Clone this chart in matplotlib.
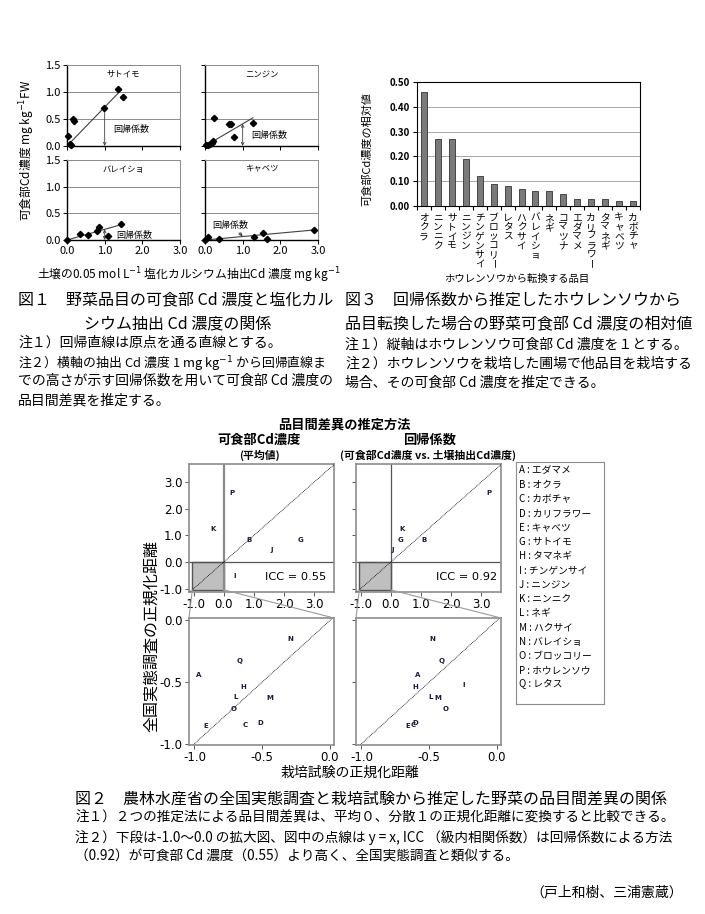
import matplotlib
matplotlib.use("Agg")
import matplotlib.pyplot as plt
from matplotlib.patches import Rectangle, ConnectionPatch
import numpy as np

plt.rcParams['font.family'] = ['Noto Sans CJK JP', 'DejaVu Sans']
plt.rcParams['axes.unicode_minus'] = False
plt.rcParams['mathtext.fontset'] = 'dejavusans'

W, H = 705, 914
NARROW = ['Liberation Sans Narrow', 'DejaVu Sans']

# ---- fig 1: soil CaCl2-extractable Cd vs edible-part Cd ----
crop_names = ['サトイモ', 'ニンジン', 'バレイショ', 'キャベツ']
satoimo_x = [0.03, 0.07, 0.10, 0.15, 0.18, 0.97, 1.35, 1.49]
satoimo_y = [0.18, 0.04, 0.02, 0.50, 0.46, 0.70, 1.05, 0.90]
ninjin_x = [0.03, 0.08, 0.13, 0.19, 0.22, 0.24, 0.65, 0.70, 0.77, 1.27]
ninjin_y = [0.02, 0.01, 0.04, 0.06, 0.09, 0.51, 0.40, 0.40, 0.17, 0.43]
bareisho_x = [0.00, 0.35, 0.55, 0.80, 0.84, 1.10, 1.43]
bareisho_y = [0.00, 0.11, 0.09, 0.16, 0.25, 0.07, 0.30]
kyabetsu_x = [0.00, 0.09, 0.37, 1.31, 1.54, 1.64, 2.90]
kyabetsu_y = [0.00, 0.06, 0.01, 0.06, 0.14, 0.02, 0.19]
crop_slopes = [0.72, 0.41, 0.20, 0.065]
crop_line_end = [1.45, 1.27, 1.45, 2.90]

# ---- fig 3: relative edible Cd when switching from spinach ----
bar_names = ['オクラ', 'ニンニク', 'サトイモ', 'ニンジン', 'チンゲンサイ', 'ブロッコリー',
             'レタス', 'ハクサイ', 'バレイショ', 'ネギ', 'コマツナ', 'エダマメ',
             'カリフラワー', 'タマネギ', 'キャベツ', 'カボチャ']
bar_values = [0.46, 0.27, 0.27, 0.19, 0.12, 0.09, 0.08, 0.07, 0.06, 0.06,
              0.05, 0.03, 0.03, 0.03, 0.02, 0.02]

# ---- fig 2: normalized distances ----
item_letters = ['A', 'B', 'C', 'D', 'E', 'G', 'H', 'I', 'J', 'K', 'L', 'M', 'N', 'O', 'P', 'Q']
item_names = ['エダマメ', 'オクラ', 'カボチャ', 'カリフラワー', 'キャベツ', 'サトイモ', 'タマネギ',
              'チンゲンサイ', 'ニンジン', 'ニンニク', 'ネギ', 'ハクサイ', 'バレイショ',
              'ブロッコリー', 'ホウレンソウ', 'レタス']
survey_dist = [-0.44, 0.82, -0.85, -0.83, -0.855, 0.82, -0.54, -0.52, 0.47, 1.23,
               -0.62, -0.63, -0.15, -0.72, 2.58, -0.33]
cd_dist = [-0.97, 0.83, -0.624, -0.511, -0.92, 2.55, -0.642, 0.37, 1.58, -0.34,
           -0.696, -0.444, -0.296, -0.711, 0.28, -0.667]
reg_dist = [-0.587, 1.09, -0.62, -0.605, -0.655, 0.33, -0.605, -0.245, 0.05, 0.37,
            -0.49, -0.437, -0.475, -0.375, 3.25, -0.407]
icc_values = [0.55, 0.92]

fig = plt.figure(figsize=(W / 100, H / 100), dpi=100)


def rect(l, t, r, b):
    return [l / W, 1 - b / H, (r - l) / W, (b - t) / H]


def ftext(x, y, s, **kw):
    kw.setdefault('va', 'center')
    fig.text(x / W, 1 - y / H, s, **kw)


# ===== fig 1 panels =====
crop_boxes = [(67, 65, 180, 146), (205, 65, 318, 146), (67, 160, 180, 240), (205, 160, 318, 240)]
crop_x = [satoimo_x, ninjin_x, bareisho_x, kyabetsu_x]
crop_y = [satoimo_y, ninjin_y, bareisho_y, kyabetsu_y]
reg_label_pos = [(1.22, 0.31), (1.22, 0.20), (1.30, 0.09)]

for k in range(4):
    ax = fig.add_axes(rect(*crop_boxes[k]))
    ax.set_xlim(0, 3)
    ax.set_ylim(0, 1.5)
    ax.set_xticks([0, 1, 2, 3])
    ax.set_xticklabels(['0.0', '1.0', '2.0', '3.0'])
    ax.set_yticks([0, 0.5, 1.0, 1.5])
    ax.set_yticklabels(['0.0', '0.5', '1.0', '1.5'])
    ax.tick_params(labelsize=8, length=3, width=0.7, pad=1.5,
                   labelleft=(k % 2 == 0), labelbottom=(k >= 2))
    ax.grid(axis='y', color='#8c8c8c', lw=0.7)
    ax.set_axisbelow(True)
    for s in ['top', 'right']:
        ax.spines[s].set_color('#8c8c8c')
        ax.spines[s].set_linewidth(0.7)
    for s in ['left', 'bottom']:
        ax.spines[s].set_linewidth(1.0)
    xe = crop_line_end[k]
    ax.plot([0, xe], [0, crop_slopes[k] * xe], color='#404040', lw=0.8)
    ax.plot(crop_x[k], crop_y[k], 'D', color='black', ms=3.2, clip_on=False, zorder=5)
    ax.text(1.5, 1.33, crop_names[k], ha='center', va='center', fontsize=6)
    if k < 3:
        ax.annotate('', xy=(1, 0), xytext=(1, crop_slopes[k]),
                    arrowprops=dict(arrowstyle='<->', lw=0.6, color='#404040',
                                    shrinkA=0, shrinkB=0, mutation_scale=5))
        ax.text(*reg_label_pos[k], '回帰係数', fontsize=6.5, va='center', ha='left')
    else:
        ax.annotate('回帰係数', xy=(1.0, 0.075), xytext=(0.2, 0.27), fontsize=6.5,
                    va='center', ha='left',
                    arrowprops=dict(arrowstyle='->', lw=0.6, color='#202020',
                                    shrinkA=0, shrinkB=0, mutation_scale=5))

ftext(27, 150, '可食部Cd濃度 mg kg$^{-1}$FW', rotation=90, ha='center', fontsize=8.5)
ftext(189, 275, '土壌の0.05 mol L$^{-1}$ 塩化カルシウム抽出Cd 濃度 mg kg$^{-1}$',
      ha='center', fontsize=8.5)

# ===== fig 3 bar chart =====
axb = fig.add_axes(rect(417, 82, 640, 206))
pos = np.arange(len(bar_names))
axb.bar(pos, bar_values, width=0.43, color='#7a7a7a', edgecolor='#333333', lw=0.6, zorder=3)
axb.set_xlim(-0.5, len(bar_names) - 0.5)
axb.set_ylim(0, 0.5)
axb.set_yticks(np.arange(0, 0.51, 0.1))
axb.set_yticklabels(['%.2f' % v for v in np.arange(0, 0.51, 0.1)], fontsize=7, fontweight='bold')
axb.set_xticks(np.arange(-0.5, len(bar_names), 1.0))
axb.tick_params(axis='x', length=3, labelbottom=False)
axb.tick_params(axis='y', length=3, pad=2)
axb.grid(axis='y', color='#999999', lw=0.6, zorder=0)
for i, name in enumerate(bar_names):
    for j, ch in enumerate(name):
        axb.annotate(ch, xy=(i, 0), xycoords=axb.get_xaxis_transform(),
                     xytext=(0, -5 - j * 6.6), textcoords='offset points',
                     ha='center', va='top', fontsize=7,
                     rotation=-90 if ch == 'ー' else 0)
ftext(367, 149, '可食部Cd濃度の相対値', rotation=90, ha='center', fontsize=8)
ftext(517, 279, 'ホウレンソウから転換する品目', ha='center', fontsize=7.5)

# ===== captions, fig 1 and 3 =====
cap_big = 11.5
cap_small = 10
ftext(18, 300, '図１　野菜品目の可食部 Cd 濃度と塩化カル', fontsize=cap_big)
ftext(84, 324, 'シウム抽出 Cd 濃度の関係', fontsize=cap_big)
ftext(18, 343, '注１）回帰直線は原点を通る直線とする。', fontsize=cap_small)
ftext(18, 362, '注２）横軸の抽出 Cd 濃度 1 mg kg$^{-1}$ から回帰直線ま', fontsize=9.3)
ftext(18, 381, 'での高さが示す回帰係数を用いて可食部 Cd 濃度の', fontsize=cap_small)
ftext(18, 400, '品目間差異を推定する。', fontsize=cap_small)
ftext(345, 300, '図３　回帰係数から推定したホウレンソウから', fontsize=cap_big)
ftext(345, 324, '品目転換した場合の野菜可食部 Cd 濃度の相対値', fontsize=cap_big)
ftext(345, 345, '注１）縦軸はホウレンソウ可食部 Cd 濃度を１とする。', fontsize=cap_small)
ftext(345, 364, '注２）ホウレンソウを栽培した圃場で他品目を栽培する', fontsize=cap_small)
ftext(345, 383, '場合、その可食部 Cd 濃度を推定できる。', fontsize=cap_small)

# ===== fig 2 =====
ftext(344, 425, '品目間差異の推定方法', ha='center', fontsize=9.5, fontweight='bold')
ftext(259, 440, '可食部Cd濃度', ha='center', fontsize=9.5, fontweight='bold')
ftext(259, 455, '(平均値)', ha='center', fontsize=7.8, fontweight='bold')
ftext(430, 440, '回帰係数', ha='center', fontsize=9.5, fontweight='bold')
ftext(428, 455, '(可食部Cd濃度 vs. 土壌抽出Cd濃度)', ha='center', fontsize=7.8, fontweight='bold')

method_x = [cd_dist, reg_dist]
col_lr = [(189, 334), (356, 501)]
icc_x = [2.39, 2.50]
for c in range(2):
    l, r = col_lr[c]
    axt = fig.add_axes(rect(l, 464, r, 592))
    axt.set_xlim(-1.15, 3.65)
    axt.set_ylim(-1.12, 3.67)
    axt.add_patch(Rectangle((-1.04, -1.04), 1.04, 1.04, fc='#bfbfbf', ec='#555555', lw=1.0, zorder=1))
    axt.axvline(0, color='#8a8a8a' if c == 0 else '#555555', lw=1.6 if c == 0 else 0.9, zorder=2)
    axt.axhline(0, color='#555555', lw=0.9, zorder=2)
    axt.plot([-1.3, 3.8], [-1.3, 3.8], ls=(0, (1, 1)), color='black', lw=0.6, zorder=3)
    for let, xv, yv in zip(item_letters, method_x[c], survey_dist):
        if xv > 0 or yv > 0:
            axt.text(xv, yv, let, ha='center', va='center', fontsize=5,
                     fontweight='bold', family='DejaVu Sans', color='#1a1a3a', zorder=4)
    axt.text(icc_x[c], -0.57, 'ICC = %.2f' % icc_values[c], ha='center', va='center',
             fontsize=8.2, family=NARROW, zorder=4)
    axt.set_xticks([-1, 0, 1, 2, 3])
    axt.set_xticklabels(['-1.0', '0.0', '1.0', '2.0', '3.0'], family=NARROW)
    axt.set_yticks([-1, 0, 1, 2, 3])
    axt.set_yticklabels(['-1.0', '0.0', '1.0', '2.0', '3.0'], family=NARROW)
    axt.tick_params(labelsize=8.5, length=3, width=0.7, color='#555555', pad=1.5,
                    labelleft=(c == 0))
    for s in axt.spines.values():
        s.set_color('#8c8c8c')
        s.set_linewidth(1.2)

    axz = fig.add_axes(rect(l, 618, r, 745))
    axz.set_xlim(-1.04, 0.03)
    axz.set_ylim(-1.01, 0.02)
    axz.plot([-1.1, 0.1], [-1.1, 0.1], ls=(0, (1, 1)), color='black', lw=0.6)
    for let, xv, yv in zip(item_letters, method_x[c], survey_dist):
        if xv <= 0 and yv <= 0:
            axz.text(xv, yv, let, ha='center', va='center', fontsize=5,
                     fontweight='bold', family='DejaVu Sans', color='#1a1a3a')
    axz.set_xticks([-1, -0.5, 0])
    axz.set_xticklabels(['-1.0', '-0.5', '0.0'], family=NARROW)
    axz.set_yticks([-1, -0.5, 0])
    axz.set_yticklabels(['-1.0', '-0.5', '0.0'], family=NARROW)
    axz.tick_params(labelsize=8.5, length=3, width=0.7, color='#555555', pad=1.5,
                    labelleft=(c == 0))
    for s in axz.spines.values():
        s.set_color('#8c8c8c')
        s.set_linewidth(1.2)

    for xa, xb in [(-1.04, -1.04), (0.0, 0.03)]:
        con = ConnectionPatch(xyA=(xa, -1.04), coordsA=axt.transData,
                              xyB=(xb, 0.02), coordsB=axz.transData,
                              color='#9a9a9a', lw=0.8)
        fig.add_artist(con)

ftext(152, 636, '全国実態調査の正規化距離', rotation=90, ha='center', fontsize=11.5)
ftext(350, 773, '栽培試験の正規化距離', ha='center', fontsize=10)

# legend box
axl = fig.add_axes(rect(516, 462, 604, 704))
axl.set_xticks([])
axl.set_yticks([])
for s in axl.spines.values():
    s.set_color('#8c8c8c')
    s.set_linewidth(0.8)
for i, (let, nm) in enumerate(zip(item_letters, item_names)):
    axl.text(3 / 88, 1 - (8 + i * 14.3) / 242, '%s : %s' % (let, nm), transform=axl.transAxes,
             fontsize=7, va='center', ha='left')

# ===== captions, fig 2 =====
ftext(75, 799, '図２　農林水産省の全国実態調査と栽培試験から推定した野菜の品目間差異の関係', fontsize=cap_big)
ftext(75, 818, '注１）２つの推定法による品目間差異は、平均０、分散１の正規化距離に変換すると比較できる。',
      fontsize=9.8)
ftext(75, 838, '注２）下段は-1.0～0.0 の拡大図、図中の点線は y = x, ICC （級内相関係数）は回帰係数による方法',
      fontsize=9.8)
ftext(75, 857, '（0.92）が可食部 Cd 濃度（0.55）より高く、全国実態調査と類似する。', fontsize=9.8)
ftext(683, 893, '（戸上和樹、三浦憲蔵）', ha='right', fontsize=cap_small)

fig.savefig('out.png', dpi=100)
